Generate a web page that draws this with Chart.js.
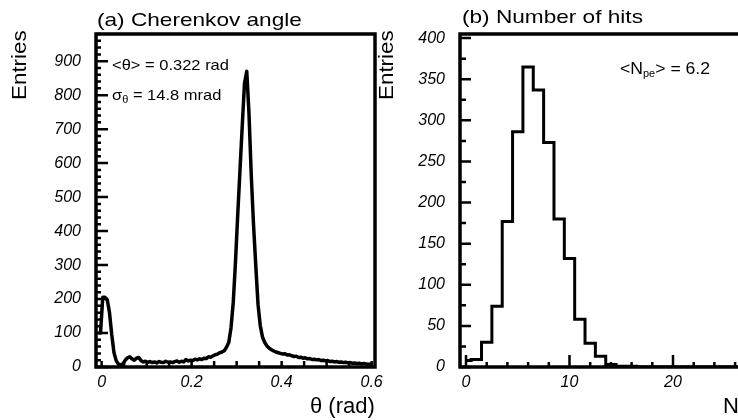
<!DOCTYPE html>
<html>
<head>
<meta charset="utf-8">
<script src="https://cdn.jsdelivr.net/npm/chart.js@4"></script>
<style>
html, body { margin: 0; padding: 0; background: #fff; }
body { width: 738px; height: 420px; overflow: hidden; position: relative; font-family: 'Liberation Sans', Arial, sans-serif; color: #000; }
canvas { position: absolute; top: 0; }
#chartA { left: 0; }
#chartB { left: 380px; }
.lbl { position: absolute; line-height: 1; white-space: nowrap; transform-origin: 0 0; z-index: 2; }
.sub { position: relative; top: 3px; font-size: 10px; }
</style>
</head>
<body>
<canvas id="chartA" width="420" height="420"></canvas>
<canvas id="chartB" width="420" height="420"></canvas>

<div class="lbl" style="left:97px; top:10px; font-size:19px; transform:scaleX(1.19)">(a) Cherenkov angle</div>
<div class="lbl" style="left:462px; top:7px; font-size:19px; transform:scaleX(1.19)">(b) Number of hits</div>

<div class="lbl" style="left:8.6px; top:100px; font-size:20px; transform:rotate(-90deg) scaleX(1.12)">Entries</div>
<div class="lbl" style="left:376px; top:100px; font-size:20px; transform:rotate(-90deg) scaleX(1.12)">Entries</div>

<div class="lbl" style="left:310px; top:395px; font-size:22px">θ (rad)</div>
<div class="lbl" style="left:723px; top:395px; font-size:22px">N<span class="sub" style="font-size:14px">pe</span></div>

<div class="lbl" style="left:112px; top:57px; font-size:15px; transform:scaleX(1.1)">&lt;θ&gt; = 0.322 rad</div>
<div class="lbl" style="left:112px; top:87px; font-size:15px; transform:scaleX(1.1)">σ<span class="sub">θ</span> = 14.8 mrad</div>
<div class="lbl" style="left:620px; top:61px; font-size:16px; transform:scaleX(1.1)">&lt;N<span class="sub">pe</span>&gt; = 6.2</div>

<script>
// (a) Cherenkov angle histogram, 0.005 rad bins starting at -0.01 rad
const thetaEdgeLow = -0.01;
const thetaBinWidth = 0.005;
const thetaCounts = [
    100, 100, 205, 205, 198, 160, 95, 42, 18, 8,
    6, 9, 20, 27, 30, 24, 20, 26, 28, 19,
    15, 17, 14, 16, 13, 15, 12, 16, 14, 13,
    17, 14, 15, 13, 16, 18, 14, 17, 15, 22,
    18, 20, 19, 23, 21, 24, 22, 26, 25, 30,
    29, 33, 36, 38, 42, 44, 48, 58, 72, 115,
    190, 310, 450, 580, 710, 835, 870, 745, 565, 420,
    300, 185, 122, 88, 72, 62, 55, 51, 47, 44,
    42, 40, 38, 39, 35, 36, 33, 31, 32, 28,
    29, 26, 27, 24, 25, 22, 23, 21, 22, 19,
    20, 18, 19, 16, 17, 15, 16, 14, 15, 13,
    14, 12, 13, 11, 12, 10, 11, 9, 10, 9,
    8, 8, 7
];
const thetaBins = thetaCounts.map((_, i) => +(thetaEdgeLow + (i + 0.5) * thetaBinWidth).toFixed(4));
const thetaTicks = [0, 0.2, 0.4, 0.6];
const entriesTicksA = [0, 100, 200, 300, 400, 500, 600, 700, 800, 900];

// (b) Number of hits histogram, unit bins centred on integers
const hitsBins = [0, 1, 2, 3, 4, 5, 6, 7, 8, 9, 10, 11, 12, 13, 14, 15, 16, 17, 18, 19, 20, 21, 22, 23, 24, 25, 26, 27, 28, 29];
const hitsCounts = [8, 9, 30, 74, 177, 286, 365, 337, 273, 180, 132, 58, 29, 13, 3, 1, 1, 0, 0, 0, 0, 0, 0, 0, 0, 0, 0, 0, 0, 0];
const hitsTicks = [0, 10, 20, 30];
const entriesTicksB = [0, 50, 100, 150, 200, 250, 300, 350, 400];

const tickFont = { family: "'Liberation Sans', Arial, sans-serif", size: 16, style: 'italic' };

// ROOT-like frame with ticks pointing inwards
const frameTicks = {
    id: 'frameTicks',
    afterDatasetsDraw(chart, args, o) {
        const { ctx, chartArea: a } = chart;
        const xs = chart.scales.x, ys = chart.scales.y;
        const isMajor = (v, step) => Math.abs(v / step - Math.round(v / step)) < 1e-6;
        ctx.save();
        ctx.strokeStyle = '#000';
        ctx.lineWidth = 2.5;
        ctx.beginPath();
        for (let k = Math.ceil(xs.min / o.xMinor - 1e-9); k <= Math.floor(xs.max / o.xMinor + 1e-9); k++) {
            const v = k * o.xMinor;
            const px = xs.getPixelForValue(v);
            ctx.moveTo(px, a.bottom);
            ctx.lineTo(px, a.bottom - (isMajor(v, o.xMajor) ? o.xMajorLen : o.xMinorLen));
        }
        for (let k = Math.ceil(ys.min / o.yMinor - 1e-9); k <= Math.floor(ys.max / o.yMinor + 1e-9); k++) {
            const v = k * o.yMinor;
            const py = ys.getPixelForValue(v);
            ctx.moveTo(a.left, py);
            ctx.lineTo(a.left + (isMajor(v, o.yMajor) ? o.yMajorLen : o.yMinorLen), py);
        }
        ctx.stroke();
        ctx.lineWidth = 3.5;
        ctx.strokeRect(a.left, a.top, a.right - a.left, a.bottom - a.top);
        ctx.restore();
    }
};

const axisBase = (ticksList, padding) => ({
    type: 'linear',
    grid: { display: false, drawTicks: false },
    border: { display: false },
    ticks: { font: tickFont, color: '#000', padding: padding, autoSkip: false, maxRotation: 0, callback: v => String(v) },
    afterBuildTicks: axis => { axis.ticks = ticksList.map(v => ({ value: v })); }
});

// Left panel
const chartA = new Chart(document.getElementById('chartA'), {
    type: 'line',
    data: {
        datasets: [{
            data: thetaBins.map((x, i) => ({ x: x, y: thetaCounts[i] })),
            borderColor: '#000',
            borderWidth: 3.5,
            borderJoinStyle: 'round',
            pointRadius: 0,
            fill: false,
            tension: 0
        }]
    },
    options: {
        responsive: false,
        animation: false,
        devicePixelRatio: 1,
        layout: { padding: { top: 34, right: 45, left: 0, bottom: 0 } },
        scales: {
            x: Object.assign(axisBase(thetaTicks, 6), { min: -0.0125, max: 0.6075, afterFit: s => { s.height = 53; } }),
            y: Object.assign(axisBase(entriesTicksA, 15), { min: 0, max: 980, afterFit: s => { s.width = 96; } })
        },
        plugins: {
            legend: { display: false },
            tooltip: { enabled: false },
            frameTicks: { xMinor: 0.05, xMajor: 0.2, xMinorLen: 6, xMajorLen: 6, yMinor: 20, yMajor: 100, yMinorLen: 5, yMajorLen: 12 }
        }
    },
    plugins: [frameTicks]
});

// Right panel
const chartB = new Chart(document.getElementById('chartB'), {
    type: 'line',
    data: {
        datasets: [{
            data: hitsBins.map((x, i) => ({ x: x, y: hitsCounts[i] })),
            borderColor: '#000',
            borderWidth: 3,
            pointRadius: 0,
            fill: false,
            stepped: 'middle'
        }]
    },
    options: {
        responsive: false,
        animation: false,
        devicePixelRatio: 1,
        layout: { padding: { top: 34, right: 23.5, left: 0, bottom: 0 } },
        scales: {
            x: Object.assign(axisBase(hitsTicks, 6), { min: -0.58, max: 30, afterFit: s => { s.height = 53; } }),
            y: Object.assign(axisBase(entriesTicksB, 15), { min: 0, max: 405, afterFit: s => { s.width = 80; } })
        },
        plugins: {
            legend: { display: false },
            tooltip: { enabled: false },
            frameTicks: { xMinor: 2, xMajor: 10, xMinorLen: 5, xMajorLen: 12, yMinor: 25, yMajor: 50, yMinorLen: 6, yMajorLen: 11 }
        }
    },
    plugins: [frameTicks]
});
</script>
</body>
</html>
